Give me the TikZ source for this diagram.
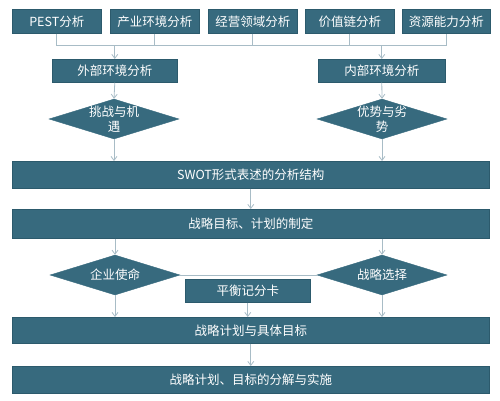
\documentclass[tikz,border=0pt]{standalone}
\usepackage{fontspec}
\setmainfont{Noto Sans CJK SC}
\usetikzlibrary{shapes.geometric,arrows.meta}
\definecolor{boxfill}{HTML}{376A7E}
\definecolor{boxline}{HTML}{2C5A6C}
\definecolor{conn}{HTML}{A8BCC6}
\tikzset{
  box/.style={draw=boxline, line width=0.6pt, fill=boxfill, text=white, inner sep=0pt,
    font=\fontsize{12.5}{15}\selectfont, anchor=north west},
  dia/.style={diamond, fill=boxfill, draw=boxfill, inner sep=0pt, minimum width=130pt, minimum height=40pt},
  diatext/.style={text=white, align=center, font=\fontsize{12.5}{15}\selectfont, inner sep=0pt},
  conline/.style={draw=conn, line width=0.8pt},
  arr/.style={conline, -{Straight Barb[length=4pt,width=6pt]}},
}
\begin{document}
\begin{tikzpicture}[x=1pt,y=-1pt]
\useasboundingbox (0,0) rectangle (500,400);
% top boxes
\node[box, minimum width=89pt, minimum height=24pt] (t1) at (12,9) {PEST分析};
\node[box, minimum width=89pt, minimum height=24pt] (t2) at (110,9) {产业环境分析};
\node[box, minimum width=89pt, minimum height=24pt] (t3) at (208,9) {经营领域分析};
\node[box, minimum width=89pt, minimum height=24pt] (t4) at (305,9) {价值链分析};
\node[box, minimum width=88pt, minimum height=24pt] (t5) at (402,9) {资源能力分析};
% bus coordinates
\coordinate (b1) at (t1.south |- 0,45);
\coordinate (b5) at (t5.south |- 0,45);
\draw[conline] (t1.south) -- (b1) -- (b5) -- (t5.south);
\draw[conline] (t2.south) -- (t2.south |- b1);
\draw[conline] (t3.south) -- (t3.south |- b1);
\draw[conline] (t4.south) -- (t4.south |- b1);
% level 2
\node[box, minimum width=125pt, minimum height=23pt] (ext) at (52,59) {外部环境分析};
\node[box, minimum width=127pt, minimum height=23pt] (int) at (318,59) {内部环境分析};
\draw[arr] (ext.north |- b1) -- (ext.north);
\draw[arr] (int.north |- b1) -- (int.north);
% diamonds
\node[dia] (d1) at (114,119) {};
\node[diatext] at (d1.center) {挑战与机\\遇};
\node[dia] (d2) at (382,119) {};
\node[diatext] at (d2.center) {优势与劣\\势};
\draw[arr] (ext.south) -- (d1.north);
\draw[arr] (int.south) -- (d2.north);
% SWOT
\node[box, minimum width=477pt, minimum height=27pt] (swot) at (12,161) {SWOT形式表述的分析结构};
\draw[arr] (d1.south) -- (d1.south |- swot.north);
\draw[arr] (d2.south) -- (d2.south |- swot.north);
% goals
\node[box, minimum width=477pt, minimum height=29pt] (goal) at (12,209) {战略目标、计划的制定};
\draw[arr] (swot.south) -- (goal.north);
% second diamonds
\node[dia] (d3) at (115,275) {};
\node[diatext] at (d3.center) {企业使命};
\node[dia] (d4) at (382,275) {};
\node[diatext] at (d4.center) {战略选择};
\draw[arr] (goal.south -| d3.north) -- (d3.north);
\draw[arr] (goal.south -| d4.north) -- (d4.north);
\draw[conline] (d3.east) -- (d4.west);
% balanced scorecard
\node[box, minimum width=125pt, minimum height=23pt] (bsc) at (185,279) {平衡记分卡};
% plan
\node[box, minimum width=477pt, minimum height=26pt] (plan) at (12,317) {战略计划与具体目标};
\draw[arr] (bsc.south) -- (bsc.south |- plan.north);
\draw[arr] (d3.south) -- (d3.south |- plan.north);
\draw[arr] (d4.south) -- (d4.south |- plan.north);
% final
\node[box, minimum width=477pt, minimum height=27pt] (impl) at (12,366) {战略计划、目标的分解与实施};
\draw[arr] (plan.south) -- (impl.north);
\end{tikzpicture}
\end{document}
